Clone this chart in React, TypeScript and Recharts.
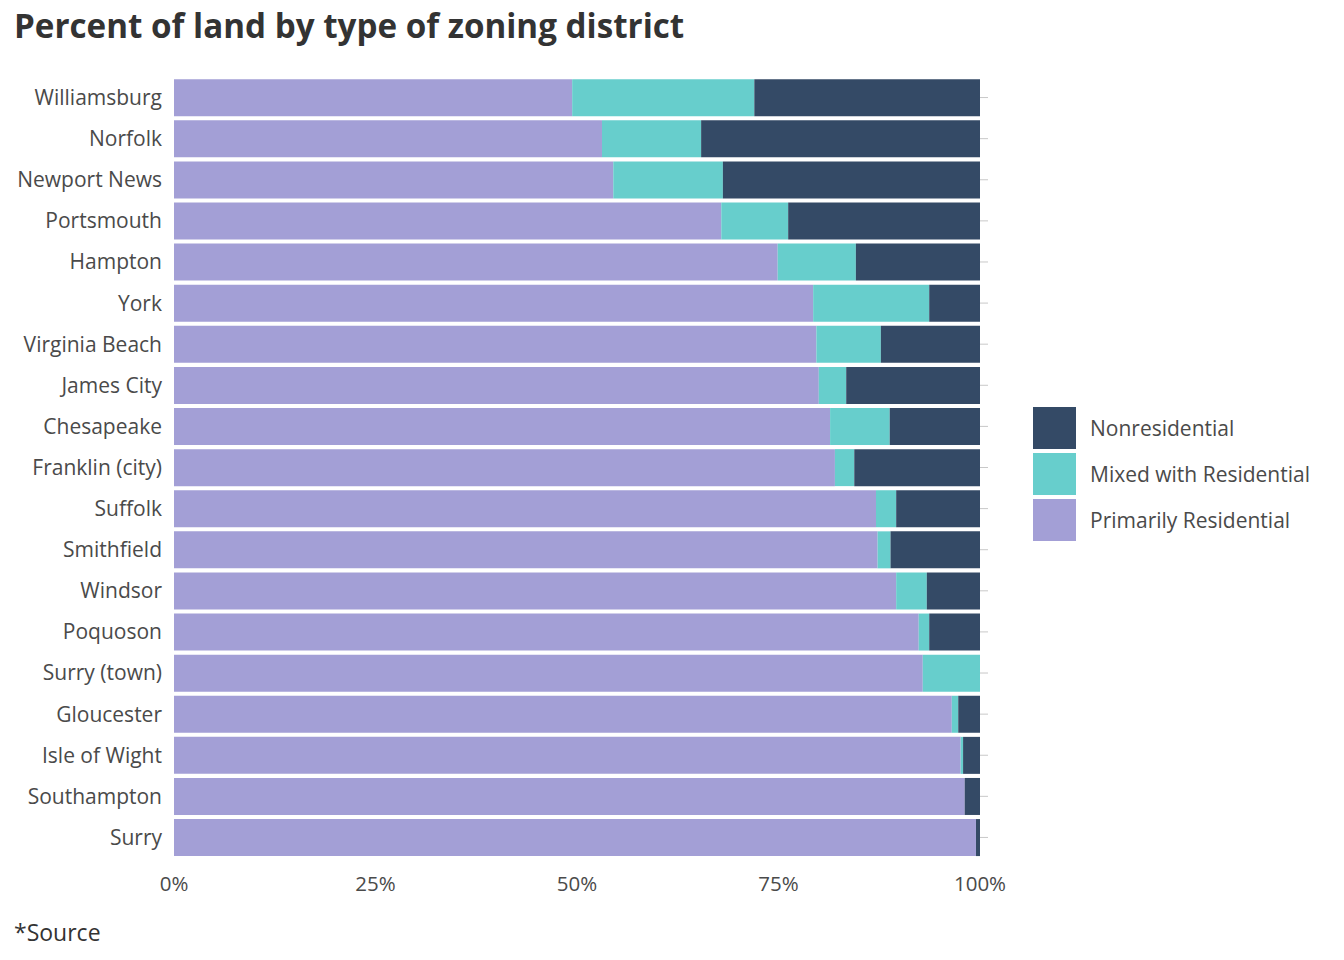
import React from "react";
import { BarChart, Bar, XAxis, YAxis } from "recharts";

const categories = [
  "Williamsburg", "Norfolk", "Newport News", "Portsmouth", "Hampton", "York",
  "Virginia Beach", "James City", "Chesapeake", "Franklin (city)", "Suffolk",
  "Smithfield", "Windsor", "Poquoson", "Surry (town)", "Gloucester",
  "Isle of Wight", "Southampton", "Surry",
];
const primarilyResidential = [
  49.4, 53.1, 54.5, 67.9, 74.9, 79.3, 79.7, 80.0, 81.4, 82.0, 87.1, 87.3,
  89.6, 92.4, 92.9, 96.5, 97.6, 98.1, 99.5,
];
const mixedWithResidential = [
  22.6, 12.3, 13.6, 8.3, 9.7, 14.4, 8.0, 3.4, 7.4, 2.4, 2.5, 1.6, 3.8, 1.3,
  7.1, 0.8, 0.3, 0, 0,
];
const nonresidential = [
  28.0, 34.6, 31.9, 23.8, 15.4, 6.3, 12.3, 16.6, 11.2, 15.6, 10.4, 11.1, 6.6,
  6.3, 0, 2.7, 2.1, 1.9, 0.5,
];
const xTicks = [0, 25, 50, 75, 100];

const COLORS = {
  primary: "#a39fd6",
  mixed: "#67cecc",
  non: "#344a66",
};

const data = categories.map((name, i) => ({
  name,
  primary: primarilyResidential[i],
  mixed: mixedWithResidential[i],
  non: nonresidential[i],
}));

const FONT = "'Open Sans', sans-serif";
const TEXT = "#4a4a4a";

const legendItems = [
  { label: "Nonresidential", color: COLORS.non },
  { label: "Mixed with Residential", color: COLORS.mixed },
  { label: "Primarily Residential", color: COLORS.primary },
];

const LegendContent = () => (
  <div style={{ fontFamily: FONT }}>
    {legendItems.map((it) => (
      <div key={it.label} style={{ display: "flex", alignItems: "center", height: 46 }}>
        <div style={{ width: 43, height: 42, background: it.color }} />
        <span style={{ marginLeft: 14, fontSize: 21, color: TEXT }}>{it.label}</span>
      </div>
    ))}
  </div>
);

export default function App() {
  return (
    <div style={{ position: "absolute", left: 0, top: 0, width: 1344, height: 960, background: "#fff", fontFamily: FONT }}>
      <div style={{ position: "absolute", left: 14, top: 3, fontSize: 33.2, fontWeight: 700, color: "#333", whiteSpace: "nowrap" }}>
        Percent of land by type of zoning district
      </div>
      <div style={{ position: "absolute", left: 14, top: 916, fontSize: 23, color: "#333" }}>*Source</div>
      <div style={{ position: "absolute", left: 1033, top: 405, width: 300 }}>
        <LegendContent />
      </div>
      <div style={{ position: "absolute", left: 0, top: 0 }}>
        <BarChart
          width={1344}
          height={900}
          data={data}
          layout="vertical"
          margin={{ top: 77, right: 334, left: 0, bottom: 0 }}
          barCategoryGap="5.3%"
        >
          <XAxis
            type="number"
            domain={[0, 100]}
            ticks={xTicks}
            tickFormatter={(v) => `${v}%`}
            axisLine={false}
            tickLine={false}
            tickMargin={12}
            height={42}
            tick={{ fill: TEXT, fontSize: 20.5, fontFamily: FONT }}
            allowDataOverflow
          />
          <YAxis
            type="category"
            dataKey="name"
            width={174}
            axisLine={false}
            tickLine={false}
            tickMargin={6}
            interval={0}
            tick={{ fill: TEXT, fontSize: 21, fontFamily: FONT }}
          />
          <YAxis
            yAxisId="right"
            type="category"
            dataKey="name"
            orientation="right"
            width={30}
            axisLine={false}
            tickLine={{ stroke: "#c8c8c8", strokeWidth: 1 }}
            tickSize={8}
            interval={0}
            tickFormatter={() => ""}
          />
          <Bar dataKey="primary" stackId="a" fill={COLORS.primary} isAnimationActive={false} />
          <Bar dataKey="mixed" stackId="a" fill={COLORS.mixed} isAnimationActive={false} />
          <Bar dataKey="non" stackId="a" fill={COLORS.non} isAnimationActive={false} />
        </BarChart>
      </div>
    </div>
  );
}
